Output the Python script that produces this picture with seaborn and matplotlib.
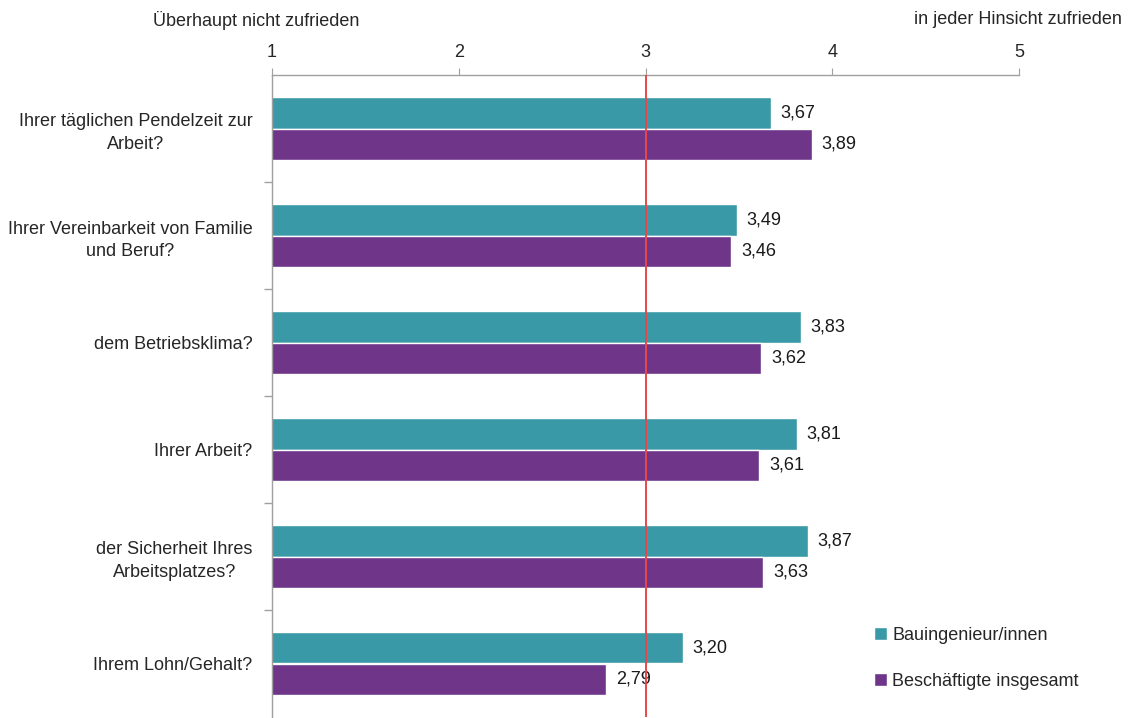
import numpy as np
import pandas as pd
import matplotlib
matplotlib.use("Agg")
import matplotlib.pyplot as plt
import seaborn as sns

# === Daten ===
fragen = [
    "Ihrer täglichen Pendelzeit zur\nArbeit?",
    "Ihrer Vereinbarkeit von Familie\nund Beruf?",
    "dem Betriebsklima?",
    "Ihrer Arbeit?",
    "der Sicherheit Ihres\nArbeitsplatzes?",
    "Ihrem Lohn/Gehalt?",
]
gruppen = ["Bauingenieur/innen", "Beschäftigte insgesamt"]
bauing = [3.67, 3.49, 3.83, 3.81, 3.87, 3.20]
gesamt = [3.89, 3.46, 3.62, 3.61, 3.63, 2.79]
x_ticks = [1, 2, 3, 4, 5]
farben = ["#3a99a6", "#6e3589"]

df = pd.DataFrame({
    "frage": fragen * 2,
    "gruppe": [gruppen[0]] * len(fragen) + [gruppen[1]] * len(fragen),
    "wert": bauing + gesamt,
})

sns.set_style("white")
plt.rcParams["font.family"] = ["Liberation Sans Narrow", "Liberation Sans", "DejaVu Sans"]

fig = plt.figure(figsize=(11.28, 7.18), dpi=100)
ax = fig.add_axes([272 / 1128, 1 - 717 / 718, 747 / 1128, (717 - 75) / 718])

sns.barplot(data=df, y="frage", x="wert", hue="gruppe", order=fragen, hue_order=gruppen,
            palette=farben, orient="h", width=0.58, saturation=1, ax=ax, legend=True)

ax.set_xlim(1, 5)
ax.set_ylim(len(fragen) - 0.5, -0.5)

# Werte an den Balken
for cont in ax.containers:
    ax.bar_label(cont, labels=[f"{b.get_width():.2f}".replace(".", ",") for b in cont],
                 padding=7, fontsize=13, color="#1a1a1a")

# Referenzlinie bei 3
ax.axvline(3, color="#e8474a", lw=1.4, zorder=5)

# Achsen
ax.xaxis.tick_top()
ax.set_xticks(x_ticks)
ax.set_xticklabels([str(t) for t in x_ticks], fontsize=13)
ax.tick_params(axis="x", direction="out", length=5, color="#a0a0a0", pad=5, top=True)
ax.set_yticks(range(len(fragen)))
ax.set_yticklabels(fragen, fontsize=13)
for lab in ax.get_yticklabels():
    lab.set_multialignment("center")
    lab.set_linespacing(1.45)
ax.tick_params(axis="y", which="major", length=0, pad=14)
ax.set_yticks(np.arange(0.5, len(fragen) - 0.5, 1), minor=True)
ax.tick_params(axis="y", which="minor", left=True, length=6, width=1,
               color="#a0a0a0", direction="out")
ax.set_xlabel("")
ax.set_ylabel("")

for s in ["right", "bottom"]:
    ax.spines[s].set_visible(False)
for s in ["left", "top"]:
    ax.spines[s].set_color("#a0a0a0")
    ax.spines[s].set_linewidth(1)

fig.text(153 / 1128, 1 - 20 / 718, "Überhaupt nicht zufrieden", fontsize=13, ha="left", va="center")
fig.text(1122 / 1128, 1 - 20 / 718, "in jeder Hinsicht zufrieden", fontsize=13, ha="right", va="center")

leg = ax.legend(loc="lower left", bbox_to_anchor=(858 / 1128, 12 / 718), bbox_transform=fig.transFigure,
                frameon=False, fontsize=13, handlelength=0.7, handleheight=0.7,
                handletextpad=0.3, labelspacing=1.6)

plt.savefig("out.png", dpi=100)
